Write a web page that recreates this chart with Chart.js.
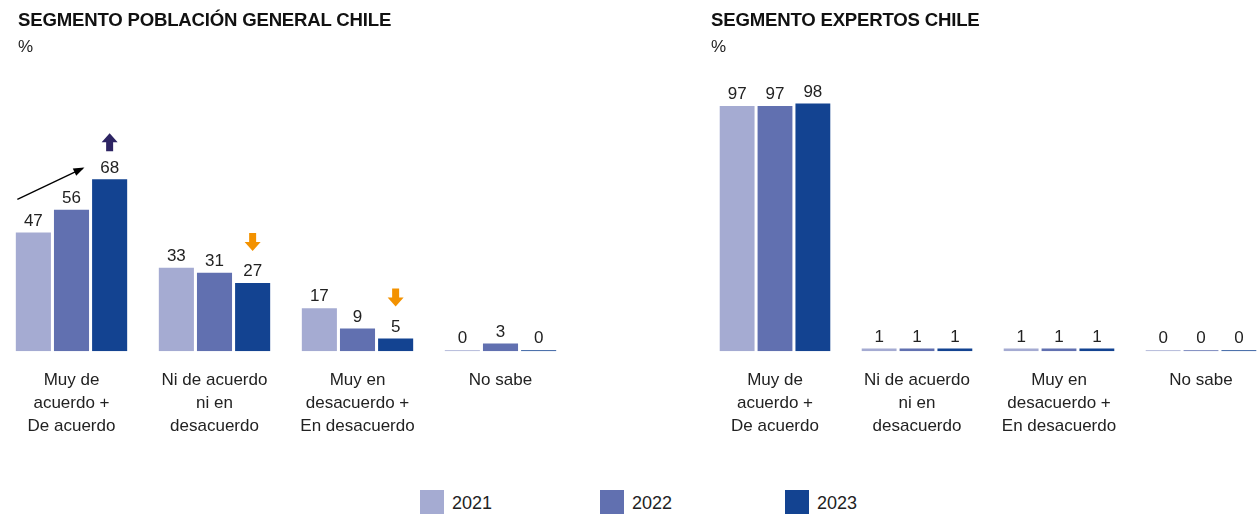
<!DOCTYPE html>
<html>
<head>
<meta charset="utf-8">
<script src="https://cdn.jsdelivr.net/npm/chart.js@4/dist/chart.umd.min.js"></script>
<style>
  html, body { margin: 0; padding: 0; background: #fff; overflow: hidden; width: 1257px; height: 517px; }
  #left { position: absolute; left: 0; top: 0; width: 572px; height: 456px; }
  #right { position: absolute; left: 704px; top: 0; width: 568px; height: 456px; }
  .head { position: absolute; top: 8px; font-family: "Liberation Sans", Arial, sans-serif; color: #111; }
  .head b { display: block; font-size: 18.6px; line-height: 24px; letter-spacing: -0.2px; }
  .head span { display: block; font-size: 17px; line-height: 30px; color: #222; }
  #legend { position: absolute; left: 0; top: 490px; width: 1257px; font-family: "Liberation Sans", Arial, sans-serif; font-size: 18px; color: #222; }
  .item { position: absolute; top: 0; height: 24px; line-height: 26px; }
  .box { display: inline-block; width: 24px; height: 24px; vertical-align: top; margin-right: 8px; }
</style>
</head>
<body>
<div id="left"><canvas id="c1"></canvas></div>
<div id="right"><canvas id="c2"></canvas></div>
<div class="head" style="left:18px"><b>SEGMENTO POBLACIÓN GENERAL CHILE</b><span>%</span></div>
<div class="head" style="left:711px"><b>SEGMENTO EXPERTOS CHILE</b><span>%</span></div>
<div id="legend"></div>
<script>
const categories = [
  ["Muy de", "acuerdo +", "De acuerdo"],
  ["Ni de acuerdo", "ni en", "desacuerdo"],
  ["Muy en", "desacuerdo +", "En desacuerdo"],
  ["No sabe"]
];
const years = ["2021", "2022", "2023"];
const colors = ["#a5abd2", "#6170b0", "#134391"];

const general2021 = [47, 33, 17, 0];
const general2022 = [56, 31, 9, 3];
const general2023 = [68, 27, 5, 0];

const expertos2021 = [97, 1, 1, 0];
const expertos2022 = [97, 1, 1, 0];
const expertos2023 = [98, 1, 1, 0];

// markers drawn above the 2023 bars of the general chart: up = rise, down = fall
const generalTrend = ["up", "down", "down", null];

const font = "'Liberation Sans', Arial, sans-serif";

const valueLabels = {
  id: 'valueLabels',
  afterDatasetsDraw(chart) {
    const ctx = chart.ctx;
    ctx.save();
    ctx.font = "17px " + font;
    ctx.fillStyle = "#222";
    ctx.textAlign = "center";
    ctx.textBaseline = "bottom";
    chart.data.datasets.forEach((ds, i) => {
      chart.getDatasetMeta(i).data.forEach((bar, j) => {
        ctx.fillText(ds.data[j], bar.x, bar.y - 3);
      });
    });
    ctx.restore();
  }
};

function blockArrow(ctx, x, y, dir, color) {
  // y = tip of arrow
  const hw = 8, sw = 3.5, head = 9, len = 18;
  const s = dir === "up" ? 1 : -1;
  ctx.fillStyle = color;
  ctx.beginPath();
  ctx.moveTo(x, y);
  ctx.lineTo(x + hw, y + s * head);
  ctx.lineTo(x + sw, y + s * head);
  ctx.lineTo(x + sw, y + s * len);
  ctx.lineTo(x - sw, y + s * len);
  ctx.lineTo(x - sw, y + s * head);
  ctx.lineTo(x - hw, y + s * head);
  ctx.closePath();
  ctx.fill();
}

const trendMarks = {
  id: 'trendMarks',
  afterDatasetsDraw(chart, args, opts) {
    if (!opts.trend) return;
    const ctx = chart.ctx;
    const bars = chart.getDatasetMeta(2).data;
    ctx.save();
    opts.trend.forEach((t, j) => {
      if (!t) return;
      const b = bars[j];
      if (t === "up") blockArrow(ctx, b.x, b.y - 46, "up", "#2d2463");
      else blockArrow(ctx, b.x, b.y - 32, "down", "#f39200");
    });
    // thin arrow across the first group
    const b0 = chart.getDatasetMeta(0).data[0];
    const b2 = bars[0];
    const x1 = b0.x - 16, y1 = b0.y - 33;
    const x2 = b2.x - 27, y2 = b2.y - 11;
    ctx.strokeStyle = "#000";
    ctx.fillStyle = "#000";
    ctx.lineWidth = 1.3;
    ctx.beginPath();
    ctx.moveTo(x1, y1);
    ctx.lineTo(x2, y2);
    ctx.stroke();
    const a = Math.atan2(y2 - y1, x2 - x1);
    ctx.beginPath();
    ctx.moveTo(x2 + 2 * Math.cos(a), y2 + 2 * Math.sin(a));
    ctx.lineTo(x2 - 9 * Math.cos(a) + 4 * Math.sin(a), y2 - 9 * Math.sin(a) - 4 * Math.cos(a));
    ctx.lineTo(x2 - 9 * Math.cos(a) - 4 * Math.sin(a), y2 - 9 * Math.sin(a) + 4 * Math.cos(a));
    ctx.closePath();
    ctx.fill();
    ctx.restore();
  }
};

function buildChart(id, series, trend) {
  return new Chart(document.getElementById(id), {
    type: 'bar',
    data: {
      labels: categories,
      datasets: series.map((d, i) => ({
        label: years[i],
        data: d,
        backgroundColor: colors[i],
        categoryPercentage: 0.8,
        barPercentage: 0.92,
        minBarLength: 1
      }))
    },
    options: {
      responsive: true,
      maintainAspectRatio: false,
      animation: false,
      layout: { padding: 0 },
      plugins: {
        legend: { display: false },
        tooltip: { enabled: false },
        trendMarks: { trend: trend }
      },
      scales: {
        x: {
          grid: { display: false, drawTicks: false },
          border: { display: false },
          ticks: { color: '#222', font: { family: font, size: 17, lineHeight: 1.35 }, padding: 18, maxRotation: 0, autoSkip: false }
        },
        y: {
          display: false,
          min: 0, max: 139
        }
      }
    },
    plugins: [valueLabels, trendMarks]
  });
}

buildChart('c1', [general2021, general2022, general2023], generalTrend);
buildChart('c2', [expertos2021, expertos2022, expertos2023], null);

const legendX = [420, 600, 785];
const legend = document.getElementById('legend');
years.forEach((y, i) => {
  const el = document.createElement('div');
  el.className = 'item';
  el.style.left = legendX[i] + 'px';
  el.innerHTML = '<span class="box" style="background:' + colors[i] + '"></span>' + y;
  legend.appendChild(el);
});
</script>
</body>
</html>
